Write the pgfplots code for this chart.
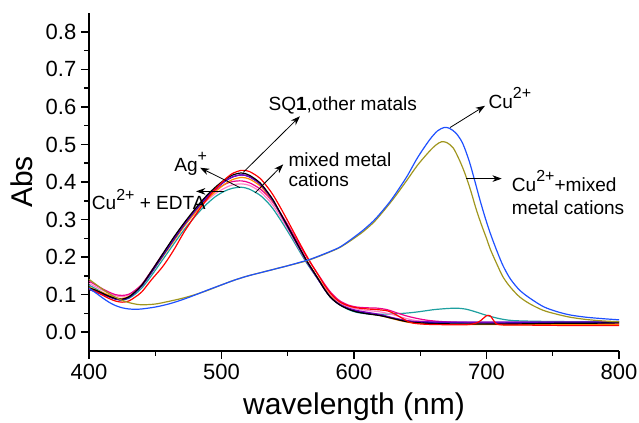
\documentclass[border=0pt]{standalone}
\usepackage{pgfplots}
\pgfplotsset{compat=1.18}
\usepackage{fontspec}
\setmainfont{Liberation Sans}
\usetikzlibrary{arrows.meta}
\definecolor{cuBlue}{RGB}{30,80,255}
\definecolor{cuOlive}{RGB}{160,150,30}
\definecolor{navyc}{RGB}{0,0,190}
\definecolor{tealc}{RGB}{30,160,160}
\definecolor{pinkc}{RGB}{255,128,200}
\definecolor{orangec}{RGB}{255,140,0}
\definecolor{purplec}{RGB}{128,0,190}
\newcommand\sps[1]{\raisebox{0.5em}{\fontsize{12}{12}\selectfont #1}}
\tikzset{annot/.style={anchor=base west, inner sep=0pt, font=\fontsize{14.3}{16}\selectfont},
  arr/.style={-{Stealth[length=7pt,width=5pt]}, line width=0.6pt, black}}
\begin{document}
\begin{tikzpicture}
\begin{axis}[name=ax, scale only axis, width=397.5pt, height=253.5pt,
  xmin=400, xmax=800, ymin=-0.05, ymax=0.85,
  axis lines=left, axis line style={-, line width=1.1pt},
  xtick={400,500,...,800}, ytick={0,0.1,0.2,0.3,0.4,0.5,0.6,0.7,0.8},
  minor x tick num=1, minor y tick num=1,
  tick align=outside, major tick length=6pt, minor tick length=3.5pt,
  tick style={line width=1.1pt, black},
  ticklabel style={font=\fontsize{16.5}{19}\selectfont},
  y tick label style={/pgf/number format/.cd, fixed, fixed zerofill, precision=1},
  /pgf/number format/assume math mode=true,
  xlabel={wavelength (nm)}, ylabel={Abs},
  label style={font=\fontsize{22.5}{26}\selectfont},
  xlabel style={at={(axis description cs:0.5,-0.1893)}, anchor=base},
  ylabel style={at={(axis description cs:-0.1057,0.5)}, anchor=base},
  clip=false,
  every axis plot/.append style={line width=0.9pt, no markers, smooth},
]
% teal
\addplot[tealc] coordinates {(400,0.125)(405,0.116)(410,0.106)(415,0.096)(420,0.089)(425,0.086)(430,0.09)(435,0.102)(440,0.118)(447,0.15)(455,0.19)(460,0.215)(465,0.24)(472,0.274)(480,0.308)(487,0.335)(495,0.36)(502,0.375)(508,0.383)(515,0.386)(521,0.381)(529,0.365)(535,0.345)(539,0.328)(544,0.302)(549,0.274)(554,0.245)(559,0.215)(564,0.186)(569,0.16)(574,0.135)(578,0.115)(582,0.098)(586,0.084)(590,0.072)(596,0.06)(602,0.053)(610,0.049)(620,0.048)(630,0.049)(640,0.051)(650,0.055)(660,0.06)(670,0.063)(678,0.064)(685,0.061)(692,0.054)(700,0.045)(710,0.036)(720,0.031)(740,0.029)(770,0.028)(800,0.028)};
% pink
\addplot[pinkc] coordinates {(400,0.13)(410,0.112)(420,0.097)(425,0.095)(430,0.099)(435,0.112)(440,0.128)(447,0.16)(455,0.2)(460,0.224)(465,0.249)(472,0.283)(480,0.317)(487,0.344)(495,0.368)(502,0.383)(508,0.392)(515,0.395)(521,0.391)(529,0.375)(535,0.354)(539,0.337)(544,0.31)(549,0.281)(554,0.251)(559,0.22)(564,0.19)(569,0.163)(574,0.138)(578,0.118)(582,0.1)(586,0.087)(590,0.077)(596,0.068)(602,0.062)(610,0.058)(620,0.054)(630,0.046)(640,0.036)(650,0.03)(680,0.026)(720,0.024)(760,0.024)(800,0.024)};
% magenta
\addplot[magenta] coordinates {(400,0.136)(405,0.126)(410,0.116)(415,0.107)(420,0.1)(425,0.098)(430,0.101)(435,0.112)(440,0.128)(447,0.163)(455,0.205)(460,0.23)(465,0.256)(472,0.29)(480,0.325)(487,0.352)(495,0.377)(502,0.393)(508,0.401)(515,0.403)(521,0.398)(529,0.382)(535,0.362)(539,0.345)(544,0.32)(549,0.292)(554,0.262)(559,0.232)(564,0.202)(569,0.175)(574,0.148)(578,0.127)(582,0.108)(586,0.093)(590,0.082)(596,0.072)(602,0.067)(610,0.065)(618,0.064)(625,0.06)(632,0.052)(640,0.043)(650,0.035)(660,0.03)(680,0.026)(720,0.024)(760,0.023)(800,0.022)};
% orange
\addplot[orangec] coordinates {(400,0.12)(410,0.106)(420,0.092)(425,0.09)(430,0.095)(435,0.108)(440,0.125)(447,0.158)(455,0.198)(460,0.223)(465,0.248)(472,0.283)(480,0.318)(487,0.347)(495,0.373)(502,0.393)(508,0.406)(515,0.412)(521,0.408)(529,0.39)(535,0.366)(539,0.347)(544,0.318)(549,0.287)(554,0.256)(559,0.224)(564,0.193)(569,0.165)(574,0.138)(578,0.116)(582,0.097)(586,0.083)(590,0.073)(596,0.063)(602,0.056)(610,0.05)(620,0.044)(630,0.035)(640,0.027)(650,0.023)(680,0.021)(720,0.02)(760,0.02)(800,0.021)};
% navy
\addplot[navyc] coordinates {(400,0.114)(410,0.101)(420,0.088)(425,0.086)(430,0.092)(435,0.106)(440,0.124)(447,0.158)(455,0.2)(460,0.226)(465,0.252)(472,0.287)(480,0.323)(487,0.352)(495,0.38)(502,0.4)(508,0.413)(515,0.419)(521,0.414)(529,0.395)(535,0.37)(539,0.35)(544,0.319)(549,0.287)(554,0.255)(559,0.223)(564,0.191)(569,0.163)(574,0.135)(578,0.113)(582,0.094)(586,0.081)(590,0.072)(596,0.062)(602,0.056)(610,0.05)(620,0.045)(630,0.037)(640,0.03)(650,0.027)(680,0.025)(720,0.025)(760,0.026)(800,0.027)};
% purple
\addplot[purplec] coordinates {(400,0.116)(410,0.102)(420,0.089)(425,0.087)(430,0.093)(435,0.107)(440,0.125)(447,0.16)(455,0.203)(460,0.229)(465,0.255)(472,0.289)(480,0.325)(487,0.354)(495,0.381)(502,0.401)(508,0.413)(515,0.419)(521,0.414)(529,0.395)(535,0.369)(539,0.349)(544,0.318)(549,0.286)(554,0.254)(559,0.222)(564,0.19)(569,0.162)(574,0.135)(578,0.113)(582,0.095)(586,0.082)(590,0.073)(596,0.064)(602,0.058)(610,0.053)(620,0.047)(630,0.038)(640,0.031)(650,0.028)(680,0.027)(720,0.027)(760,0.027)(800,0.028)};
% black (SQ1)
\addplot[black] coordinates {(400,0.118)(405,0.112)(410,0.104)(415,0.096)(420,0.09)(425,0.088)(430,0.094)(435,0.108)(440,0.126)(447,0.162)(455,0.205)(460,0.232)(465,0.258)(472,0.292)(480,0.328)(487,0.357)(495,0.385)(502,0.405)(508,0.418)(515,0.424)(521,0.418)(529,0.398)(535,0.372)(539,0.352)(544,0.32)(549,0.288)(554,0.256)(559,0.224)(564,0.192)(569,0.164)(574,0.136)(578,0.113)(582,0.094)(586,0.081)(590,0.071)(596,0.061)(602,0.054)(610,0.049)(620,0.044)(630,0.036)(640,0.028)(650,0.025)(660,0.023)(680,0.022)(700,0.022)(720,0.022)(740,0.023)(760,0.024)(780,0.024)(800,0.025)};
% red
\addplot[red] coordinates {(400,0.115)(405,0.108)(410,0.099)(415,0.09)(420,0.083)(425,0.08)(430,0.083)(435,0.094)(440,0.108)(447,0.139)(455,0.172)(460,0.197)(465,0.225)(472,0.268)(480,0.31)(487,0.345)(495,0.38)(502,0.405)(508,0.422)(515,0.431)(521,0.428)(529,0.41)(535,0.385)(539,0.365)(544,0.335)(549,0.303)(554,0.27)(559,0.237)(564,0.205)(569,0.175)(574,0.147)(578,0.124)(582,0.105)(586,0.09)(590,0.079)(596,0.07)(602,0.065)(610,0.062)(618,0.06)(625,0.057)(630,0.05)(635,0.04)(640,0.03)(645,0.024)(655,0.021)(670,0.02)(685,0.02)(692,0.024)(696,0.032)(700,0.044)(703,0.043)(706,0.028)(710,0.02)(730,0.019)(760,0.018)(800,0.018)};
% Cu2+ + mixed (olive)
\addplot[cuOlive] coordinates {(400,0.141)(405,0.128)(410,0.115)(415,0.103)(420,0.093)(425,0.085)(430,0.079)(435,0.075)(440,0.073)(450,0.075)(460,0.082)(470,0.09)(480,0.1)(490,0.112)(500,0.126)(510,0.139)(520,0.15)(530,0.159)(540,0.168)(550,0.177)(560,0.186)(566,0.192)(575,0.204)(582,0.214)(589,0.225)(595,0.238)(600,0.25)(607,0.268)(615,0.293)(620,0.313)(627,0.343)(632,0.366)(640,0.405)(648,0.445)(657,0.482)(662,0.499)(666,0.507)(670,0.505)(675,0.49)(680,0.455)(684,0.42)(688,0.378)(692,0.33)(696,0.288)(700,0.25)(703,0.22)(708,0.18)(712.5,0.147)(718,0.12)(725,0.094)(733,0.075)(743,0.058)(753,0.048)(763,0.04)(775,0.034)(788,0.03)(800,0.028)};
% Cu2+ (blue)
\addplot[cuBlue] coordinates {(400,0.117)(405,0.105)(410,0.092)(415,0.08)(420,0.071)(425,0.065)(430,0.062)(435,0.061)(440,0.062)(450,0.067)(460,0.075)(470,0.086)(480,0.099)(490,0.113)(500,0.126)(510,0.139)(520,0.15)(530,0.159)(540,0.168)(550,0.177)(560,0.187)(566,0.193)(575,0.205)(582,0.215)(589,0.226)(595,0.24)(600,0.253)(607,0.272)(614.6,0.296)(620,0.317)(627,0.347)(632,0.372)(640,0.415)(648,0.465)(657,0.512)(663,0.536)(668,0.545)(672,0.543)(677,0.53)(682,0.503)(687,0.455)(691,0.405)(695,0.353)(699,0.305)(703,0.262)(708,0.215)(712.5,0.177)(718,0.142)(725,0.112)(733,0.09)(743,0.068)(753,0.055)(763,0.046)(775,0.04)(788,0.036)(800,0.033)};
% annotations
\draw[arr] (axis cs:516.5,0.426) -- (axis cs:559.2,0.575);
\node[annot] at (axis cs:535.3,0.59) {SQ\textbf{1},other matals};
\draw[arr] (axis cs:514,0.385) -- (axis cs:483.8,0.438);
\node[annot] at (axis cs:464.2,0.429) {Ag\sps{+}};
\draw[arr] (axis cs:501.9,0.375) -- (axis cs:480.8,0.375);
\node[annot] at (axis cs:402,0.326) {Cu\sps{2+} + EDTA};
\draw[arr] (axis cs:525.3,0.371) -- (axis cs:546.6,0.447);
\node[annot] at (axis cs:550.4,0.442) {mixed metal};
\node[annot] at (axis cs:550.4,0.387) {cations};
\draw[arr] (axis cs:672.5,0.545) -- (axis cs:698.9,0.603);
\node[annot] at (axis cs:701.4,0.596) {Cu\sps{2+}};
\draw[arr] (axis cs:684.5,0.409) -- (axis cs:711.5,0.409);
\node[annot] at (axis cs:719,0.375) {Cu\sps{2+}+mixed};
\node[annot] at (axis cs:719,0.313) {metal cations};
\end{axis}
\pgfresetboundingbox
\path ([shift={(-66.75pt,-54pt)}]ax.south west) rectangle ([shift={(15pt,9.75pt)}]ax.north east);
\end{tikzpicture}
\end{document}
